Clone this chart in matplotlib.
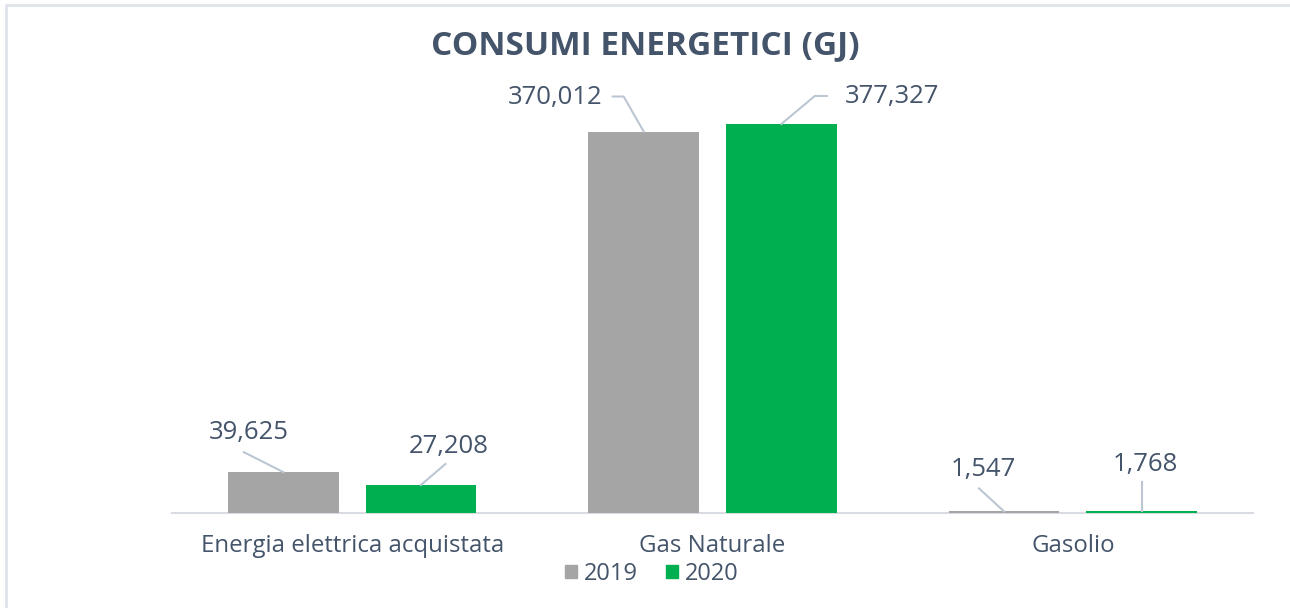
import matplotlib
matplotlib.use('Agg')
import matplotlib.pyplot as plt
import numpy as np
from matplotlib.lines import Line2D
from matplotlib.patches import Patch

plt.rcParams.update({'font.family': 'Open Sans', 'font.size': 15})

categories = ['Energia elettrica acquistata', 'Gas Naturale', 'Gasolio']
years = ['2019', '2020']
vals_2019 = [39625, 370012, 1547]
vals_2020 = [27208, 377327, 1768]
labels_2019 = ['39,625', '370,012', '1,547']
labels_2020 = ['27,208', '377,327', '1,768']

txt_col = '#44546A'
lead_col = '#BCC6D3'
colors = ['#A5A5A5', '#00B050']

W, H = 1290, 608
fig = plt.figure(figsize=(W / 100, H / 100), dpi=100)
ax = fig.add_axes([172 / W, (H - 513) / H, 1081 / W, 412.4 / H])

x = np.arange(len(categories))
bw = 0.307
off = 0.191
b1 = ax.bar(x - off, vals_2019, bw, color=colors[0], label=years[0], zorder=3)
b2 = ax.bar(x + off, vals_2020, bw, color=colors[1], label=years[1], zorder=3)

ax.set_xlim(-0.5, 2.5)
ax.set_ylim(0, 400000)
ax.set_yticks([])
for s in ['left', 'right', 'top']:
    ax.spines[s].set_visible(False)
ax.spines['bottom'].set_color('#D9DDE3')
ax.spines['bottom'].set_linewidth(1.5)
ax.spines['bottom'].set_zorder(1)
ax.set_xticks(x)
ax.set_xticklabels(categories, color=txt_col, fontsize=17.3)
ax.tick_params(axis='x', length=0, pad=15)

# leader lines (pixel offsets from bar top) and label placement
leaders_2019 = [[(0, 0), (-39.5, 20)], [(0, 0), (-20, 35), (-31, 35)], [(0, 0), (-25, 23)]]
leaders_2020 = [[(0, 0), (24.5, 21)], [(0, 0), (33.5, 28), (45.5, 28)], [(0, 0), (0, 29)]]
text_2019 = [((-35, 40), 'center'), ((-41, 34), 'right'), ((-21, 42), 'center')]
text_2020 = [((28, 38), 'center'), ((63, 27), 'left'), ((4, 47), 'center')]

fig.canvas.draw()
for bars, vals, labs, leads, tpos in [(b1, vals_2019, labels_2019, leaders_2019, text_2019),
                                      (b2, vals_2020, labels_2020, leaders_2020, text_2020)]:
    for bar, v, lab, ld, (tp, ha) in zip(bars, vals, labs, leads, tpos):
        cx = bar.get_x() + bar.get_width() / 2
        px, py = ax.transData.transform((cx, v))
        xs = [px + d[0] for d in ld]
        ys = [py + d[1] for d in ld]
        fig.add_artist(Line2D(xs, ys, transform=None, color=lead_col, lw=1.5))
        fig.text((px + tp[0]) / W, (py + tp[1]) / H, lab, ha=ha, va='center',
                 color=txt_col, fontsize=18.5)

fig.text(0.5, (H - 46) / H, 'CONSUMI ENERGETICI (GJ)', ha='center', va='center',
         fontsize=24, fontweight='bold', color=txt_col)

handles = [Patch(color=c) for c in colors]
fig.legend(handles, years, loc='center', bbox_to_anchor=(652 / W, (H - 574) / H), ncol=2,
           frameon=False, fontsize=17, handlelength=0.5, handleheight=0.5,
           handletextpad=0.3, columnspacing=1.2, labelcolor=txt_col)

# outer frame (top and left edges)
fig.add_artist(Line2D([6 / W, 6 / W, 1], [0, (H - 5) / H, (H - 5) / H],
                      transform=fig.transFigure, color='#DFE3EA', lw=2))

fig.savefig('out.png', dpi=100, facecolor='white')
